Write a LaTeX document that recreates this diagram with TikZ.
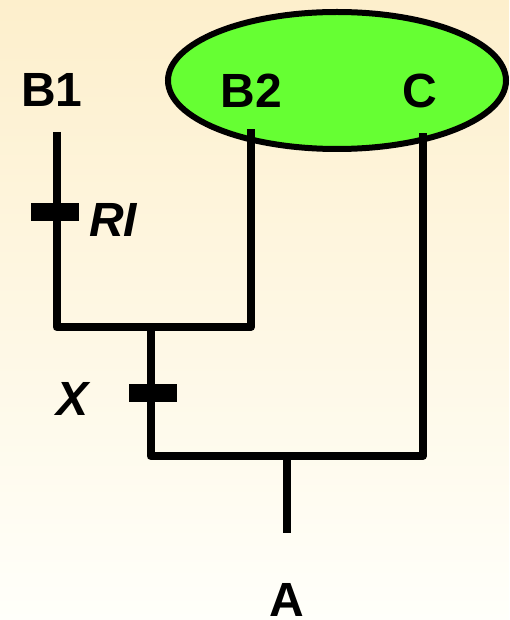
\documentclass[tikz,border=0pt]{standalone}
\usepackage{fontspec}
\setmainfont{Liberation Sans}
\usetikzlibrary{shapes.geometric}
\definecolor{bgtop}{RGB}{253,239,204}
\definecolor{bgbot}{RGB}{255,255,250}
\definecolor{leaf}{RGB}{102,255,51}
\begin{document}
\begin{tikzpicture}[x=1pt,y=-1pt,
  lbl/.style={font=\fontsize{48}{58}\selectfont\bfseries, anchor=base, inner sep=0pt},
  ilbl/.style={font=\fontsize{48}{58}\selectfont\bfseries\itshape, anchor=base, inner sep=0pt},
  wire/.style={line width=8pt, line join=round},
  tickbox/.style={fill=black, minimum width=48pt, minimum height=18pt, inner sep=0pt},
  blob/.style={ellipse, draw=black, line width=6pt, fill=leaf, minimum width=338pt, minimum height=137pt, inner sep=0pt}]
\useasboundingbox (0,0) rectangle (509,620);
\shade[top color=bgtop, bottom color=bgbot] (0,0) rectangle (509,620);
\node[blob] (E) at (337,80.5) {};
\node[lbl] (B1) at (52,107) {B1};
\node[lbl] (B2) at (251.5,108) {B2};
\node[lbl] (C) at (419.5,108) {C};
\node[ilbl] (RI) at (113,236) {RI};
\node[ilbl] (X) at (73,415) {X};
\node[lbl] (A) at (286.5,616) {A};
\coordinate (b1top) at (56.5,132);
\coordinate (b2top) at (251,129);
\coordinate (ctop) at (423,133);
\coordinate (j1) at (150.5,327);
\coordinate (j2) at (286.5,456);
\coordinate (aend) at (286.5,533);
\draw[wire] (b1top) |- (j1) -| (b2top);
\draw[wire] (j1) |- (j2) -| (ctop);
\draw[wire] (j2) -- (aend);
\node[tickbox] (tRI) at (55,212) {};
\node[tickbox] (tX) at (153,393) {};
\end{tikzpicture}
\end{document}
